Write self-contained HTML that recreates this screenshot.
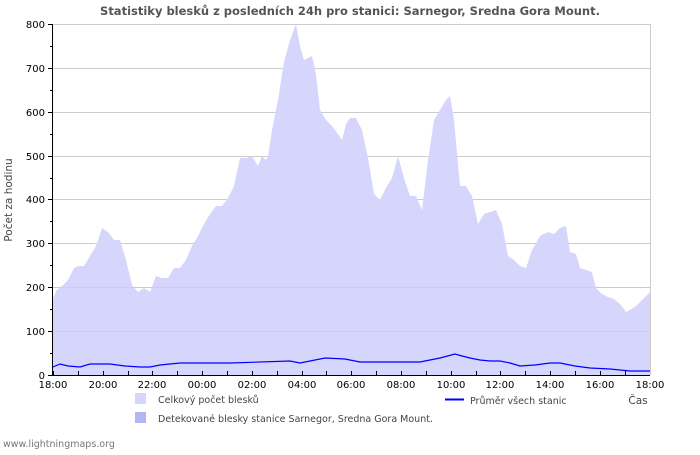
<!DOCTYPE html>
<html><head><meta charset="utf-8"><style>
body{margin:0;background:#fff;width:700px;height:450px;overflow:hidden}
text{font-family:"DejaVu Sans","Liberation Sans",sans-serif}
</style></head><body>
<svg width="700" height="450" xmlns="http://www.w3.org/2000/svg">
<text x="350" y="15" text-anchor="middle" font-size="11.5" font-weight="bold" fill="#555">Statistiky blesků z posledních 24h pro stanici: Sarnegor, Sredna Gora Mount.</text>
<g stroke="#ccc" stroke-width="1">
<line x1="53" x2="650" y1="24.5" y2="24.5"/><line x1="53" x2="650" y1="68.5" y2="68.5"/><line x1="53" x2="650" y1="112.5" y2="112.5"/><line x1="53" x2="650" y1="156.5" y2="156.5"/><line x1="53" x2="650" y1="199.5" y2="199.5"/><line x1="53" x2="650" y1="243.5" y2="243.5"/><line x1="53" x2="650" y1="287.5" y2="287.5"/><line x1="53" x2="650" y1="331.5" y2="331.5"/>
<line x1="650.5" x2="650.5" y1="24" y2="375"/>
</g>
<polygon fill="#d6d6fc" points="53,375 53,298 57,290 62,286 68,280 74,268 78,266 84,266 90,256 96,246 102,228 108,232 114,240 120,240 126,260 132,285 138,292 144,288 150,292 156,276 162,278 168,278 174,268 180,268 186,260 192,246 198,236 204,224 210,214 216,206 222,206 228,198 234,186 240,158 246,158 252,156 258,166 262,156 266,160 268,156 272,130 278,100 284,62 290,40 296,24 300,46 304,60 308,58 312,56 316,74 320,110 326,120 332,126 338,134 342,140 346,124 350,118 356,118 362,130 368,158 374,194 380,200 386,188 392,178 398,156 404,178 410,196 416,196 422,210 428,160 434,120 440,110 446,100 450,96 454,120 460,186 466,186 472,196 478,224 484,214 490,212 496,210 502,224 508,256 514,260 520,266 526,268 532,250 540,236 548,232 554,234 560,228 566,226 570,252 576,254 580,268 586,270 592,272 596,288 602,294 608,297 614,299 620,304 626,312 630,310 636,306 642,300 648,294 650,292 650,375"/>
<g stroke="#c4c4ee" stroke-width="1" opacity="0.6">
<line x1="53" x2="650" y1="331.5" y2="331.5"/><line x1="53" x2="650" y1="287.5" y2="287.5"/>
</g>
<polyline fill="none" stroke="#0000ff" stroke-width="1.2" points="53,367 60,364 68,366 80,367 90,364 110,364 125,366 140,367 150,367 160,365 180,363 230,363 290,361 300,363 310,361 325,358 345,359 360,362 380,362 400,362 420,362 440,358 455,354 462,356 470,358 480,360 490,361 500,361 510,363 520,366 535,365 550,363 560,363 575,366 590,368 610,369 630,371 650,371"/>
<g stroke="#000" stroke-width="1">
<line x1="52.5" x2="52.5" y1="24" y2="375"/><line x1="52" x2="650" y1="375.5" y2="375.5"/>
</g>
<g font-size="10" fill="#000" text-anchor="end">
<text x="45" y="28">800</text><text x="45" y="72">700</text><text x="45" y="116">600</text><text x="45" y="160">500</text><text x="45" y="203">400</text><text x="45" y="247">300</text><text x="45" y="291">200</text><text x="45" y="335">100</text><text x="45" y="379">0</text>
</g>
<g stroke="#000"><line x1="48" x2="53" y1="24.5" y2="24.5"/><line x1="48" x2="53" y1="68.5" y2="68.5"/><line x1="48" x2="53" y1="112.5" y2="112.5"/><line x1="48" x2="53" y1="156.5" y2="156.5"/><line x1="48" x2="53" y1="199.5" y2="199.5"/><line x1="48" x2="53" y1="243.5" y2="243.5"/><line x1="48" x2="53" y1="287.5" y2="287.5"/><line x1="48" x2="53" y1="331.5" y2="331.5"/><line x1="48" x2="53" y1="375.5" y2="375.5"/>
<line x1="50" x2="53" y1="46.5" y2="46.5"/><line x1="50" x2="53" y1="90.5" y2="90.5"/><line x1="50" x2="53" y1="134.5" y2="134.5"/><line x1="50" x2="53" y1="178.5" y2="178.5"/><line x1="50" x2="53" y1="221.5" y2="221.5"/><line x1="50" x2="53" y1="265.5" y2="265.5"/><line x1="50" x2="53" y1="309.5" y2="309.5"/><line x1="50" x2="53" y1="353.5" y2="353.5"/>
</g>
<g stroke="#000" id="xt">
<path d="M53.5,371v4M78.5,371v4M103.5,371v4M128.5,371v4M152.5,371v4M177.5,371v4M202.5,371v4M227.5,371v4M252.5,371v4M277.5,371v4M302.5,371v4M326.5,371v4M351.5,371v4M376.5,371v4M401.5,371v4M426.5,371v4M451.5,371v4M476.5,371v4M500.5,371v4M525.5,371v4M550.5,371v4M575.5,371v4M600.5,371v4M625.5,371v4"/>
</g>
<g font-size="10" fill="#000" text-anchor="middle">
<text x="53" y="388">18:00</text><text x="103" y="388">20:00</text><text x="152" y="388">22:00</text><text x="202" y="388">00:00</text><text x="252" y="388">02:00</text><text x="302" y="388">04:00</text><text x="351" y="388">06:00</text><text x="401" y="388">08:00</text><text x="451" y="388">10:00</text><text x="500" y="388">12:00</text><text x="550" y="388">14:00</text><text x="600" y="388">16:00</text><text x="650" y="388">18:00</text>
</g>
<text transform="translate(12,200) rotate(-90)" font-size="10.5" fill="#444" text-anchor="middle">Počet za hodinu</text>
<text x="638" y="404" font-size="10.5" fill="#444" text-anchor="middle">Čas</text>
<rect x="135" y="393" width="11" height="11" fill="#d6d6fc"/>
<text x="158" y="403" font-size="9.5" fill="#444">Celkový počet blesků</text>
<rect x="135" y="412" width="11" height="11" fill="#b5b5f6"/>
<text x="158" y="422" font-size="9.5" fill="#444">Detekované blesky stanice Sarnegor, Sredna Gora Mount.</text>
<line x1="445" x2="464" y1="399.5" y2="399.5" stroke="#0000ff" stroke-width="2"/>
<text x="470" y="404" font-size="9.5" fill="#444">Průměr všech stanic</text>
<text x="3" y="447" font-size="9.5" fill="#777">www.lightningmaps.org</text>
</svg>
</body></html>
